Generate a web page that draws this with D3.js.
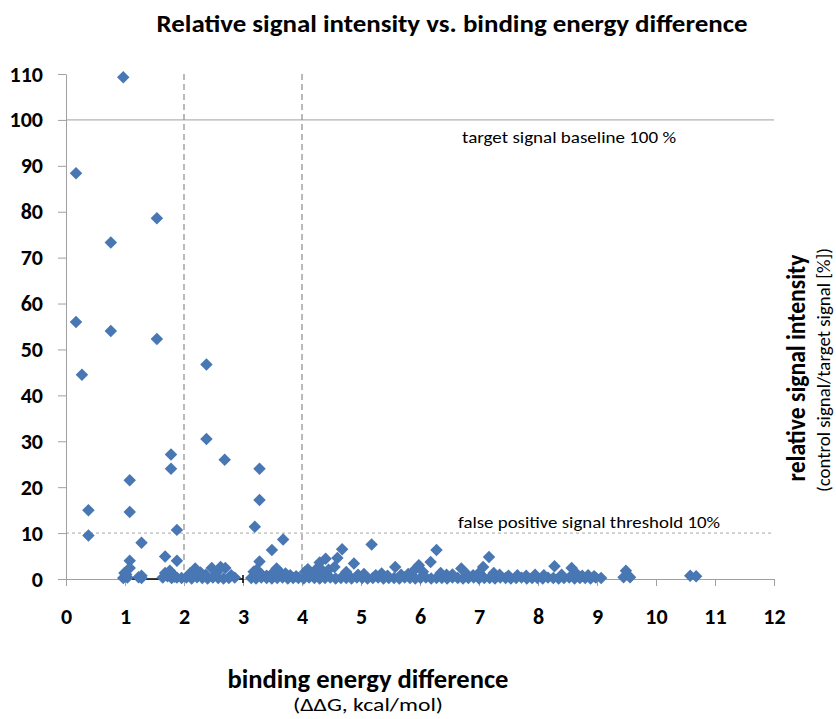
<!DOCTYPE html>
<html>
<head>
<meta charset="utf-8">
<script src="https://cdn.jsdelivr.net/npm/d3@7"></script>
<style>
  body { margin: 0; background: #fff; }
  text { font-family: Calibri, Carlito, Lato, sans-serif; fill: #000; }
  .axis path, .axis line { stroke: #a0a0a0; }
  .axis text { font-size: 22px; font-weight: bold; }
</style>
</head>
<body>
<div id="chart"></div>
<script>
// binding energy difference (kcal/mol) and relative signal (%)
// strong signals
const ddG = [
  0.17, 0.97, 0.17, 0.27, 0.38, 0.38, 0.76, 0.76, 1.54, 1.54,
  1.08, 1.08, 1.28, 1.78, 1.78, 1.88, 1.68, 1.88, 1.08,
  2.38, 2.38, 2.69, 3.28, 3.28, 3.20, 3.49, 3.68, 3.28,
  // clusters near zero, left part
  0.97, 0.99, 1.04, 1.08, 1.02, 1.23, 1.28, 1.28,
  1.64, 1.68, 1.72, 1.76, 1.79, 1.79, 1.84, 1.88,
  // low band, bottom row
  1.96, 2.04, 2.13, 2.22, 2.31, 2.40, 2.49, 2.58, 2.67, 2.76,
  2.86, 3.14, 3.22, 3.31, 3.40, 3.49, 3.58, 3.67, 3.76, 3.85,
  3.94, 4.03, 4.12, 4.21, 4.30, 4.39, 4.48, 4.57, 4.66, 4.75,
  4.84, 4.93, 5.02, 5.11, 5.20, 5.29, 5.38, 5.47, 5.56, 5.65,
  5.74, 5.83, 5.92, 6.01, 6.10, 6.19, 6.28, 6.37, 6.46, 6.55,
  6.64, 6.73, 6.82, 6.91, 7.00, 7.09, 7.18, 7.27, 7.36, 7.45,
  7.54, 7.63, 7.72, 7.81, 7.90, 7.99, 8.08, 8.17, 8.26, 8.35,
  8.44, 8.53, 8.62, 8.71, 8.80, 8.89, 8.98, 9.07,
  // low band, upper points
  2.10, 2.19, 2.28, 2.37, 2.47, 2.56, 2.62, 2.70, 2.80, 3.18,
  3.23, 3.30, 3.40, 3.52, 3.57, 3.63, 3.72, 3.80, 3.90, 4.05,
  4.10, 4.20, 4.27, 4.30, 4.35, 4.40, 4.45, 4.55, 4.60, 4.68,
  4.75, 4.88, 4.95, 5.05, 5.18, 5.25, 5.35, 5.45, 5.58, 5.68,
  5.80, 5.90, 5.98, 6.05, 6.18, 6.28, 6.35, 6.45, 6.55, 6.70,
  6.80, 6.90, 7.00, 7.07, 7.17, 7.25, 7.35, 7.50, 7.65, 7.80,
  7.95, 8.10, 8.28, 8.40, 8.57, 8.65, 8.75, 8.85, 8.95, 9.45,
  9.49, 9.56, 10.58, 10.68
];
const relSignal = [
  88.4, 109.3, 56.0, 44.5, 15.0, 9.5, 73.3, 54.0, 78.6, 52.3,
  21.5, 14.6, 7.9, 27.1, 24.0, 10.7, 4.9, 4.0, 4.0,
  46.7, 30.5, 26.0, 24.0, 17.2, 11.4, 6.3, 8.6, 3.8,
  0.2, 1.3, 0.3, 2.4, 1.0, 0.4, 0.7, 0.2,
  0.3, 1.3, 0.6, 1.8, 1.3, 0.2, 0.5, 0.3,
  0.2, 0.3, 0.1, 0.4, 0.2, 0.1, 0.3, 0.2, 0.1, 0.2,
  0.3, 0.2, 0.1, 0.3, 0.2, 0.1, 0.2, 0.3, 0.1, 0.2,
  0.2, 0.1, 0.3, 0.2, 0.1, 0.2, 0.3, 0.1, 0.2, 0.2,
  0.1, 0.3, 0.2, 0.1, 0.2, 0.3, 0.1, 0.2, 0.2, 0.1,
  0.3, 0.2, 0.1, 0.2, 0.3, 0.1, 0.2, 0.2, 0.1, 0.3,
  0.2, 0.1, 0.2, 0.3, 0.1, 0.2, 0.2, 0.1, 0.3, 0.2,
  0.1, 0.2, 0.3, 0.1, 0.2, 0.2, 0.1, 0.3, 0.2, 0.1,
  0.2, 0.3, 0.1, 0.2, 0.2, 0.1, 0.3, 0.2,
  1.2, 2.3, 1.4, 0.9, 2.4, 1.5, 2.6, 2.4, 0.8, 1.6,
  2.0, 1.2, 0.7, 1.5, 2.3, 1.4, 1.2, 0.8, 0.6, 1.5,
  2.1, 1.2, 2.5, 3.6, 1.8, 4.4, 2.0, 2.6, 4.6, 6.5,
  1.5, 3.4, 0.9, 1.1, 7.5, 0.8, 1.2, 0.7, 2.6, 0.9,
  1.1, 1.9, 3.0, 1.6, 3.7, 6.3, 1.3, 0.9, 1.0, 2.3,
  1.0, 0.8, 1.3, 2.6, 4.8, 1.3, 0.9, 0.7, 0.8, 0.7,
  0.9, 0.8, 2.8, 0.9, 2.4, 1.2, 0.7, 0.8, 0.6, 0.4,
  1.8, 0.4, 0.7, 0.6
];

const xTicks = d3.range(0, 13, 1);
const yTicks = d3.range(0, 111, 10);
const cutoffs = [2, 4];          // dashed vertical lines
const baseline = 100;            // target signal baseline
const threshold = 10;            // false positive threshold
const errorBar = [1.12, 3.0];    // black bar along zero

let width = 836,
    height = 719,
    margin = {top: 74, right: 62, bottom: 140, left: 66};

let points = ddG.map((d, i) => ({x: d, y: relSignal[i]}));

let svg = d3.select("#chart")
  .append("svg")
  .attr("width", width)
  .attr("height", height);

let x = d3.scaleLinear().domain([0, 12]).range([margin.left, width - margin.right]);
let y = d3.scaleLinear().domain([0, 110]).range([height - margin.bottom, margin.top]);

// reference lines
svg.append("line")
  .attr("x1", x(0)).attr("x2", x(12))
  .attr("y1", y(baseline)).attr("y2", y(baseline))
  .attr("stroke", "#a0a0a0");

svg.append("line")
  .attr("x1", x(0)).attr("x2", x(12))
  .attr("y1", y(threshold)).attr("y2", y(threshold))
  .attr("stroke", "#a8a8a8")
  .attr("stroke-dasharray", "3,3");

svg.selectAll(".cutoff")
  .data(cutoffs)
  .enter().append("line")
  .attr("class", "cutoff")
  .attr("x1", d => x(d)).attr("x2", d => x(d))
  .attr("y1", y(110)).attr("y2", y(0))
  .attr("stroke", "#8c8c8c")
  .attr("stroke-width", 1.2)
  .attr("stroke-dasharray", "6,4");

// axes
svg.append("g")
  .attr("class", "x axis")
  .attr("transform", `translate(0,${y(0)})`)
  .call(d3.axisBottom(x).tickValues(xTicks).tickSize(7).tickPadding(22).tickSizeOuter(7));

svg.append("g")
  .attr("class", "y axis")
  .attr("transform", `translate(${x(0)},0)`)
  .call(d3.axisLeft(y).tickValues(yTicks).tickSize(8).tickPadding(15).tickSizeOuter(0));

// error bar
svg.append("line")
  .attr("x1", x(errorBar[0])).attr("x2", x(errorBar[1]))
  .attr("y1", y(0)).attr("y2", y(0))
  .attr("stroke", "#000").attr("stroke-width", 1.5);
svg.append("line")
  .attr("x1", x(errorBar[1])).attr("x2", x(errorBar[1]))
  .attr("y1", y(0) - 4).attr("y2", y(0) + 4)
  .attr("stroke", "#000").attr("stroke-width", 1.5);

// markers
let diamond = d3.symbol().type(d3.symbolSquare).size(78);
svg.selectAll(".pt")
  .data(points)
  .enter().append("path")
  .attr("class", "pt")
  .attr("d", diamond)
  .attr("transform", d => `translate(${x(d.x)},${y(d.y)}) rotate(45)`)
  .attr("fill", "#4877b4");

// annotations
svg.append("text")
  .attr("x", 462).attr("y", 143)
  .attr("textLength", 214).attr("lengthAdjust", "spacingAndGlyphs")
  .style("font-size", "16px")
  .text("target signal baseline 100 %");

svg.append("text")
  .attr("x", 458).attr("y", 528)
  .attr("textLength", 262).attr("lengthAdjust", "spacingAndGlyphs")
  .style("font-size", "16px")
  .text("false positive signal threshold 10%");

// chart title
svg.append("text")
  .attr("x", 452).attr("y", 32)
  .attr("text-anchor", "middle")
  .attr("textLength", 591).attr("lengthAdjust", "spacingAndGlyphs")
  .style("font-size", "25px").style("font-weight", "bold")
  .text("Relative signal intensity vs. binding energy difference");

// x axis title
svg.append("text")
  .attr("x", 368).attr("y", 688)
  .attr("text-anchor", "middle")
  .attr("textLength", 281).attr("lengthAdjust", "spacingAndGlyphs")
  .style("font-size", "26px").style("font-weight", "bold")
  .text("binding energy difference");

svg.append("text")
  .attr("x", 368).attr("y", 711)
  .attr("text-anchor", "middle")
  .attr("textLength", 150).attr("lengthAdjust", "spacingAndGlyphs")
  .style("font-size", "19px")
  .text("(ΔΔG, kcal/mol)");

// y axis title, on the right
svg.append("text")
  .attr("transform", "translate(805,368)rotate(-90)")
  .attr("text-anchor", "middle")
  .attr("textLength", 227).attr("lengthAdjust", "spacingAndGlyphs")
  .style("font-size", "26px").style("font-weight", "bold")
  .text("relative signal intensity");

svg.append("text")
  .attr("transform", "translate(830,370)rotate(-90)")
  .attr("text-anchor", "middle")
  .attr("textLength", 244).attr("lengthAdjust", "spacingAndGlyphs")
  .style("font-size", "19px")
  .text("(control signal/target signal [%])");
</script>
</body>
</html>
